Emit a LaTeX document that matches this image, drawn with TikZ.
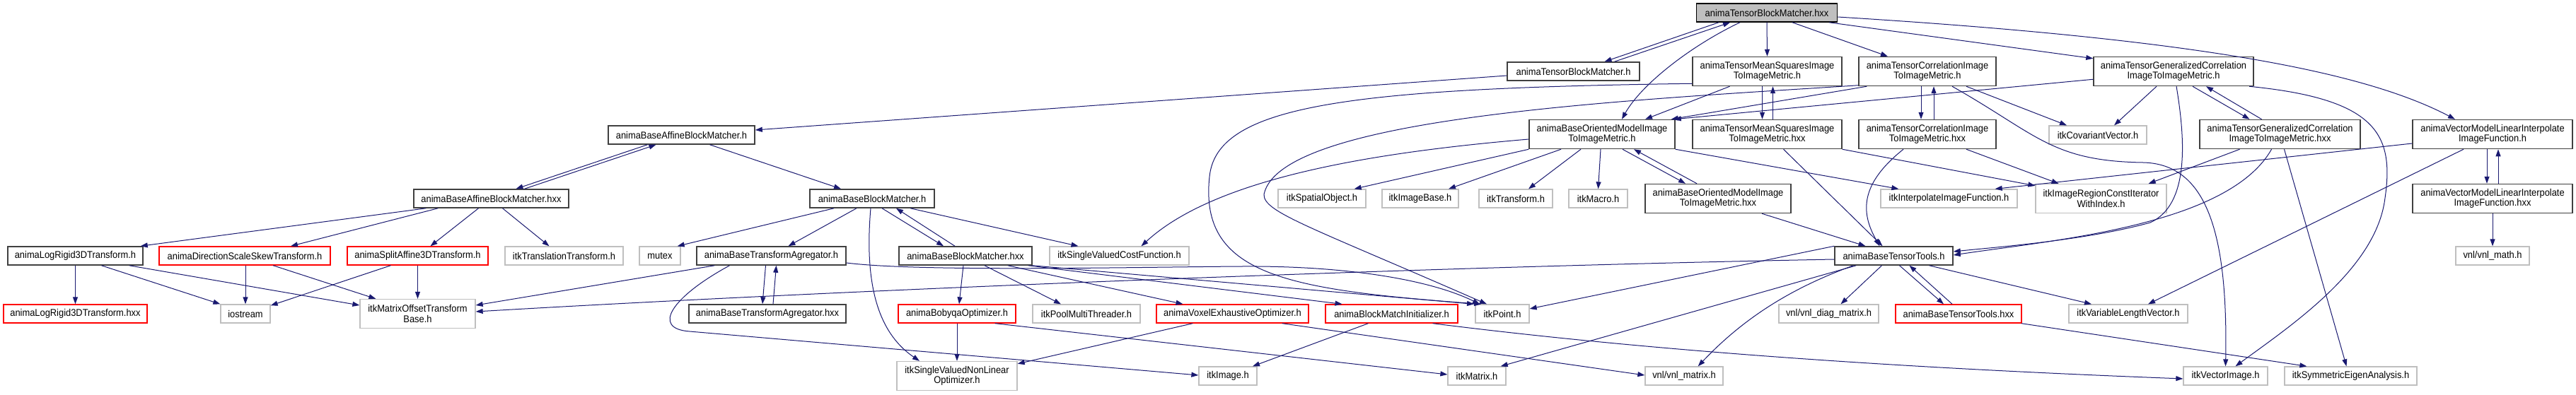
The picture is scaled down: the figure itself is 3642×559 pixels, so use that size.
\documentclass[tikz,border=0pt]{standalone}
\usepackage{fontspec}
\setmainfont{Liberation Sans}[FakeStretch=0.92]
\usetikzlibrary{arrows.meta,calc}
\definecolor{edgec}{RGB}{25,25,112}
\definecolor{blkc}{RGB}{64,64,64}
\definecolor{redc}{RGB}{255,0,0}
\definecolor{grayc}{RGB}{191,191,191}
\definecolor{topfill}{RGB}{191,191,191}
\tikzset{
 nbase/.style={inner sep=0pt, align=center, font=\fontsize{14}{14.5}\selectfont, fill=white},
 docn/.style={nbase, draw=blkc, line width=1.5pt},
 redn/.style={nbase, draw=redc, line width=1.3pt},
 extn/.style={nbase, draw=grayc, line width=1.3pt},
 topn/.style={nbase, draw=black, fill=topfill, line width=1.5pt},
 one/.style={minimum height=26pt},
 two/.style={minimum height=41pt},
 bw/.style={minimum width=#1pt},
 edg/.style={draw=edgec, line width=1pt, -{Triangle[length=10pt,width=7pt]}}
}
\begin{document}
\begin{tikzpicture}[x=1pt,y=-1pt]
\useasboundingbox (0,0) rectangle (3642,559);
% rank 0
\node[topn,one,bw=199] (TBMhxx) at (2498,18) {animaTensorBlockMatcher.hxx};
% rank 1
\node[docn,one,bw=187] (TBMh) at (2224.5,101) {animaTensorBlockMatcher.h};
\node[docn,two,bw=211] (TMSh) at (2498.5,101) {animaTensorMeanSquaresImage\\ToImageMetric.h};
\node[docn,two,bw=194] (TCh) at (2725,101) {animaTensorCorrelationImage\\ToImageMetric.h};
\node[docn,two,bw=226] (TGCh) at (3073,101) {animaTensorGeneralizedCorrelation\\ImageToImageMetric.h};
% rank 2
\node[docn,one,bw=207] (BAh) at (963.5,191) {animaBaseAffineBlockMatcher.h};
\node[docn,two,bw=206] (BOh) at (2265,190) {animaBaseOrientedModelImage\\ToImageMetric.h};
\node[docn,two,bw=211] (TMShxx) at (2498.5,190) {animaTensorMeanSquaresImage\\ToImageMetric.hxx};
\node[docn,two,bw=194] (TChxx) at (2725,190) {animaTensorCorrelationImage\\ToImageMetric.hxx};
\node[extn,one,bw=138] (CovVec) at (2966,191) {itkCovariantVector.h};
\node[docn,two,bw=227] (TGChxx) at (3223.5,190) {animaTensorGeneralizedCorrelation\\ImageToImageMetric.hxx};
\node[docn,two,bw=226] (VMh) at (3524,190) {animaVectorModelLinearInterpolate\\ImageFunction.h};
% rank 3
\node[docn,one,bw=219] (BAhxx) at (694.5,281) {animaBaseAffineBlockMatcher.hxx};
\node[docn,one,bw=176] (BBh) at (1233,281) {animaBaseBlockMatcher.h};
\node[extn,one,bw=124] (SpatialObj) at (1869,281) {itkSpatialObject.h};
\node[extn,one,bw=108] (ImageBase) at (2008,281) {itkImageBase.h};
\node[extn,one,bw=104] (Transform) at (2143,281) {itkTransform.h};
\node[extn,one,bw=83] (Macro) at (2259.5,281) {itkMacro.h};
\node[docn,two,bw=206] (BOhxx) at (2429,281) {animaBaseOrientedModelImage\\ToImageMetric.hxx};
\node[extn,one,bw=193] (Interp) at (2755.5,281) {itkInterpolateImageFunction.h};
\node[extn,two,bw=185] (RegionIt) at (2970.5,281) {itkImageRegionConstIterator\\WithIndex.h};
\node[docn,two,bw=226] (VMhxx) at (3524,281) {animaVectorModelLinearInterpolate\\ImageFunction.hxx};
% rank 4
\node[docn,one,bw=191] (LogR) at (106.5,362) {animaLogRigid3DTransform.h};
\node[redn,one,bw=242] (DSS) at (346,362) {animaDirectionScaleSkewTransform.h};
\node[redn,one,bw=199] (Split) at (590.5,362) {animaSplitAffine3DTransform.h};
\node[extn,one,bw=167] (Transl) at (797.5,362) {itkTranslationTransform.h};
\node[extn,one,bw=58] (mutex) at (933,362) {mutex};
\node[docn,one,bw=211] (BTAh) at (1090.5,362) {animaBaseTransformAgregator.h};
\node[docn,one,bw=188] (BBhxx) at (1365,362) {animaBaseBlockMatcher.hxx};
\node[extn,one,bw=197] (CostF) at (1582.5,362) {itkSingleValuedCostFunction.h};
\node[docn,one,bw=167] (BTTh) at (2677.5,362) {animaBaseTensorTools.h};
\node[extn,one,bw=104] (vnlmath) at (3524,362) {vnl/vnl\_math.h};
% rank 5
\node[redn,one,bw=203] (LogRhxx) at (106.5,444) {animaLogRigid3DTransform.hxx};
\node[extn,one,bw=70] (iostream) at (347,444) {iostream};
\node[extn,two,bw=163] (MOTB) at (590.5,444) {itkMatrixOffsetTransform\\Base.h};
\node[docn,one,bw=222] (BTAhxx) at (1085,444) {animaBaseTransformAgregator.hxx};
\node[redn,one,bw=166] (Bobyqa) at (1353,444) {animaBobyqaOptimizer.h};
\node[extn,one,bw=152] (Pool) at (1536,444) {itkPoolMultiThreader.h};
\node[redn,one,bw=215] (Voxel) at (1742.5,444) {animaVoxelExhaustiveOptimizer.h};
\node[redn,one,bw=187] (BMI) at (1967.5,444) {animaBlockMatchInitializer.h};
\node[extn,one,bw=76] (Point) at (2124,444) {itkPoint.h};
\node[extn,one,bw=141] (diag) at (2585.5,444) {vnl/vnl\_diag\_matrix.h};
\node[redn,one,bw=178] (BTThxx) at (2769,444) {animaBaseTensorTools.hxx};
\node[extn,one,bw=168] (VarLen) at (3009,444) {itkVariableLengthVector.h};
% rank 6
\node[extn,two,bw=170] (SVNLO) at (1353,532) {itkSingleValuedNonLinear\\Optimizer.h};
\node[extn,one,bw=82] (Image) at (1736,532) {itkImage.h};
\node[extn,one,bw=82] (Matrix) at (2088,532) {itkMatrix.h};
\node[extn,one,bw=110] (vnlmatrix) at (2381,532) {vnl/vnl\_matrix.h};
\node[extn,one,bw=119] (VecImg) at (3146.5,532) {itkVectorImage.h};
\node[extn,one,bw=187] (SymEig) at (3323.5,532) {itkSymmetricEigenAnalysis.h};

% ---- edges from the top file
\draw[edg] ($(TBMhxx.south)+(-68,0)$) -- ($(TBMh.north)+(44,0)$);
\draw[edg] ($(TBMh.north)+(58,0)$) -- ($(TBMhxx.south)+(-52,0)$);
\draw[edg] ($(TBMhxx.south)+(-38,0)$) .. controls (2390,65) and (2320,120) .. ($(BOh.north)+(28,0)$);
\draw[edg] (TBMhxx.south) -- (TMSh.north);
\draw[edg] ($(TBMhxx.south)+(36,0)$) -- ($(TCh.north)+(-56,0)$);
\draw[edg] ($(TBMhxx.south)+(88,0)$) -- ($(TGCh.north west)+(0,3)$);
\draw[edg] ($(TBMhxx.east)+(0,6)$) .. controls (3100,55) and (3340,100) .. ($(VMh.north)+(-53,0)$);
% TensorBlockMatcher.h
\draw[edg] ($(TBMh.west)+(0,6)$) -- ($(BAh.east)+(0,-7)$);
% TensorMeanSquares.h
\draw[edg] ($(TMSh.south)+(-53,0)$) -- ($(BOh.north)+(61,0)$);
\draw[edg] ($(TMSh.south)+(-7,0)$) -- ($(TMShxx.north)+(-7,0)$);
\draw[edg] ($(TMShxx.north)+(8,0)$) -- ($(TMSh.south)+(8,0)$);
\draw[edg] ($(TMSh.south west)+(0,-4)$) .. controls (1900,125) and (1720,150) .. (1710,250)
   .. controls (1695,390) and (1820,410) .. ($(Point.north)+(-30,0)$);
% TensorCorrelation.h
\draw[edg] ($(TCh.south west)+(12,0)$) -- ($(BOh.north east)+(-6,0)$);
\draw[edg] ($(TCh.south)+(-9,0)$) -- ($(TChxx.north)+(-9,0)$);
\draw[edg] ($(TChxx.north)+(9,0)$) -- ($(TCh.south)+(9,0)$);
\draw[edg] ($(TCh.south)+(55,0)$) -- ($(CovVec.north)+(-44,0)$);
\draw[edg] ($(TCh.south)+(35,0)$) .. controls (2880,190) and (2900,228) .. (3030,230)
   .. controls (3120,232) and (3150,330) .. (VecImg.north);
\draw[edg] ($(TCh.south west)+(0,-1.5)$) .. controls (2300,142) and (1810,165) .. (1787,275)
   .. controls (1786,300) and (1850,320) .. ($(Point.north)+(-22,0)$);
% TensorGeneralizedCorrelation.h
\draw[edg] ($(TGCh.south west)+(0,-10)$) -- ($(BOh.north east)+(-2,0)$);
\draw[edg] ($(TGCh.south)+(-24,0)$) -- ($(CovVec.north)+(23,0)$);
\draw[edg] ($(TGCh.south)+(27,0)$) -- ($(TGChxx.north)+(-43,0)$);
\draw[edg] ($(TGChxx.north)+(-26,0)$) -- ($(TGCh.south)+(46,0)$);
\draw[edg] ($(TGCh.south)+(4,0)$) .. controls (3090,200) and (3095,290) .. (3040,315)
   .. controls (2950,340) and (2820,350) .. ($(BTTh.east)+(0,-6)$);
\draw[edg] ($(TGCh.south)+(107,0)$) .. controls (3360,140) and (3385,190) .. (3372,280)
   .. controls (3360,380) and (3240,460) .. ($(VecImg.north)+(14,0)$);
% BaseAffineBlockMatcher.h
\draw[edg] ($(BAh.south)+(-48,0)$) -- ($(BAhxx.north)+(35,0)$);
\draw[edg] ($(BAhxx.north)+(47,0)$) -- ($(BAh.south)+(-36,0)$);
\draw[edg] ($(BAh.south)+(40,0)$) -- ($(BBh.north)+(-44,0)$);
% BaseAffineBlockMatcher.hxx
\draw[edg] ($(BAhxx.south west)+(18,0)$) -- ($(LogR.north east)+(-4,0)$);
\draw[edg] ($(BAhxx.south west)+(35,0)$) -- ($(DSS.north)+(65,0)$);
\draw[edg] ($(BAhxx.south)+(-18,0)$) -- ($(Split.north)+(18,0)$);
\draw[edg] ($(BAhxx.south)+(16,0)$) -- ($(Transl.north)+(-21,0)$);
% BaseBlockMatcher.h
\draw[edg] ($(BBh.south)+(-54,0)$) -- ($(mutex.north east)+(-5,0)$);
\draw[edg] ($(BBh.south)+(-22,0)$) -- ($(BTAh.north)+(24,0)$);
\draw[edg] ($(BBh.south)+(14,0)$) -- ($(BBhxx.north)+(-31,0)$);
\draw[edg] ($(BBhxx.north)+(-15,0)$) -- ($(BBh.south)+(34,0)$);
\draw[edg] ($(BBh.south)+(54,0)$) -- ($(CostF.north)+(-58,0)$);
\draw[edg] ($(BBh.south)+(-2,0)$) .. controls (1222,400) and (1240,470) .. ($(SVNLO.north)+(-53,0)$);
% BaseOrientedModel.h
\draw[edg] ($(BOh.west)+(0,7)$) .. controls (1950,215) and (1720,250) .. ($(CostF.north)+(31,0)$);
\draw[edg] (BOh.south west) -- ($(SpatialObj.north east)+(-17,0)$);
\draw[edg] ($(BOh.south)+(-58,0)$) -- ($(ImageBase.north)+(40,0)$);
\draw[edg] ($(BOh.south)+(-30,0)$) -- ($(Transform.north)+(18,0)$);
\draw[edg] ($(BOh.south)+(-2,0)$) -- (Macro.north);
\draw[edg] ($(BOh.south)+(29,0)$) -- ($(BOhxx.north)+(-46,0)$);
\draw[edg] ($(BOhxx.north)+(-30,0)$) -- ($(BOh.south)+(45,0)$);
\draw[edg] (BOh.south east) -- ($(Interp.north west)+(26,0)$);
\draw[edg] ($(BOhxx.south)+(62,0)$) -- ($(BTTh.north)+(-40,0)$);
% metric hxx files
\draw[edg] (TMShxx.south east) -- ($(RegionIt.north west)+(0,3)$);
\draw[edg] ($(TMShxx.south)+(23,0)$) -- ($(BTTh.north)+(-16,0)$);
\draw[edg] ($(TChxx.south)+(55,0)$) -- ($(RegionIt.north)+(-60,0)$);
\draw[edg] ($(TChxx.south)+(-34,0)$) .. controls (2630,260) and (2630,300) .. ($(BTTh.north)+(-20,0)$);
\draw[edg] ($(TGChxx.south)+(-57,0)$) -- ($(RegionIt.north east)+(-26,0)$);
\draw[edg] ($(TGChxx.south)+(-12,0)$) .. controls (3150,320) and (2900,340) .. ($(BTTh.east)+(0,-1)$);
\draw[edg] ($(TGChxx.south)+(6,0)$) -- ($(SymEig.north)+(-6,0)$);
% VectorModel
\draw[edg] ($(VMh.south)+(-8,0)$) -- ($(VMhxx.north)+(-8,0)$);
\draw[edg] ($(VMhxx.north)+(8,0)$) -- ($(VMh.south)+(8,0)$);
\draw[edg] ($(VMh.west)+(0,13)$) -- ($(Interp.north east)+(-32,0)$);
\draw[edg] ($(VMh.south)+(-41,0)$) -- ($(VarLen.north)+(28,0)$);
\draw[edg] (VMhxx) -- (vnlmath);
% transforms
\draw[edg] (LogR) -- (LogRhxx);
\draw[edg] ($(LogR.south)+(37,0)$) -- (iostream.north west);
\draw[edg] ($(LogR.south east)+(-20,0)$) -- ($(MOTB.west)+(0,-12)$);
\draw[edg] ($(DSS.south)+(1,0)$) -- (iostream.north);
\draw[edg] ($(DSS.south)+(40,0)$) -- ($(MOTB.north west)+(23,0)$);
\draw[edg] ($(Split.south)+(-38,0)$) -- ($(iostream.north east)+(0,2)$);
\draw[edg] (Split) -- (MOTB);
% BaseTransformAgregator.h
\draw[edg] ($(BTAh.south west)+(26,0)$) -- ($(MOTB.east)+(0,-12)$);
\draw[edg] ($(BTAh.south)+(-8,0)$) -- ($(BTAhxx.north)+(-7,0)$);
\draw[edg] ($(BTAhxx.north)+(8,0)$) -- ($(BTAh.south)+(7,0)$);
\draw[edg] ($(BTAh.south)+(-59,0)$) .. controls (950,420) and (920,465) .. (975,469) -- ($(Image.west)+(0,-1)$);
\draw[edg] ($(BTAh.east)+(0,10)$) .. controls (1300,385) and (1600,378) .. (1756,377)
   .. controls (1900,376) and (2020,395) .. ($(Point.north)+(-32,0)$);
% BaseBlockMatcher.hxx
\draw[edg] ($(BBhxx.south)+(-3,0)$) -- ($(Bobyqa.north)+(3,0)$);
\draw[edg] ($(BBhxx.south)+(27,0)$) -- ($(Pool.north)+(-36,0)$);
\draw[edg] ($(BBhxx.south)+(60,0)$) -- ($(Voxel.north)+(-70,0)$);
\draw[edg] ($(BBhxx.south east)+(-6,0)$) -- ($(BMI.north)+(-70,0)$);
\draw[edg] (BBhxx.south east) -- ($(Point.north)+(-40,0)$);
% optimizers and initializer
\draw[edg] (Bobyqa) -- (SVNLO);
\draw[edg] ($(Bobyqa.south east)+(-30,0)$) -- ($(Matrix.west)+(0,-2)$);
\draw[edg] ($(Voxel.south west)+(52,0)$) -- ($(SVNLO.north east)+(0,4)$);
\draw[edg] ($(Voxel.south east)+(-38,0)$) -- ($(vnlmatrix.west)+(0,-1)$);
\draw[edg] ($(BMI.south)+(-33,0)$) -- ($(Image.north)+(35,0)$);
\draw[edg] ($(BMI.south)+(58,0)$) .. controls (2400,505) and (2800,525) .. ($(VecImg.west)+(0,4)$);
% BaseTensorTools.h
\draw[edg] ($(BTTh.west)+(0,5)$) .. controls (2000,378) and (1200,410) .. ($(MOTB.east)+(0,-3)$);
\draw[edg] (BTTh.north west) -- ($(Point.east)+(0,-7)$);
\draw[edg] ($(BTTh.south west)+(31,0)$) -- ($(Matrix.north east)+(-8,0)$);
\draw[edg] ($(BTTh.south west)+(27,0)$) .. controls (2540,405) and (2470,445) .. ($(vnlmatrix.north east)+(-36,0)$);
\draw[edg] ($(BTTh.south)+(-17,0)$) -- ($(diag.north)+(17,0)$);
\draw[edg] ($(BTTh.south)+(8,0)$) -- ($(BTThxx.north)+(-21,0)$);
\draw[edg] ($(BTThxx.north)+(-9,0)$) -- ($(BTTh.south)+(22,0)$);
\draw[edg] ($(BTTh.south)+(50,0)$) -- ($(VarLen.north)+(-52,0)$);
\draw[edg] ($(BTThxx.south east)+(-1,0)$) -- ($(SymEig.north west)+(32,0)$);
\end{tikzpicture}
\end{document}
